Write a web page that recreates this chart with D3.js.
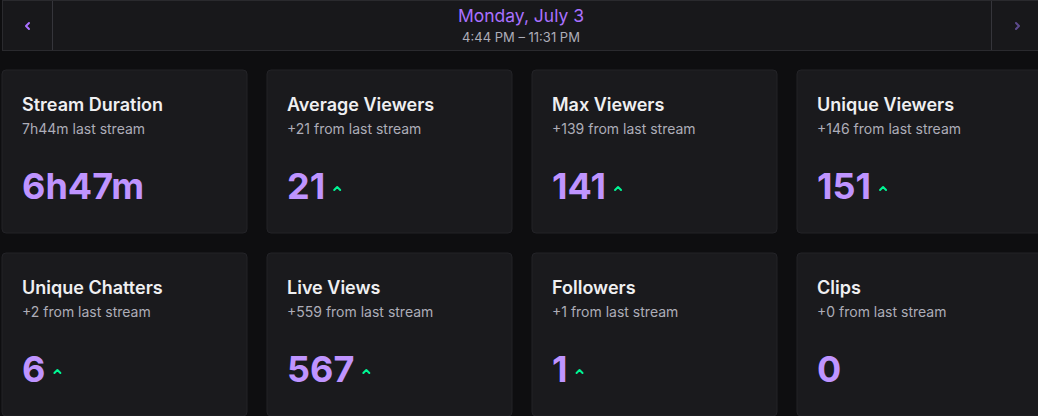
<!DOCTYPE html>
<html><head><meta charset="utf-8">
<script src="https://cdn.jsdelivr.net/npm/d3@7"></script>
<style>
html,body{margin:0;padding:0;background:#0e0e10;overflow:hidden;}
svg{display:block;font-family:Inter,"Noto Sans",sans-serif;}
</style></head>
<body>
<svg id="chart" width="1038" height="416"></svg>
<script>
const headerDate = "Monday, July 3";
const headerTime = "4:44 PM \u2013 11:31 PM";
const titles = ["Stream Duration","Average Viewers","Max Viewers","Unique Viewers","Unique Chatters","Live Views","Followers","Clips"];
const subtitles = ["7h44m last stream","+21 from last stream","+139 from last stream","+146 from last stream","+2 from last stream","+559 from last stream","+1 from last stream","+0 from last stream"];
const values = ["6h47m","21","141","151","6","567","1","0"];
const trendUp = [false,true,true,true,true,true,true,false];

const W = 1038, H = 416;
const svg = d3.select("#chart");

// header
const hdr = svg.append("g");
hdr.append("rect").attr("x",2.5).attr("y",0.5).attr("width",W).attr("height",50)
  .attr("fill","#18181b").attr("stroke","#2a2a2e");
hdr.append("line").attr("x1",52.5).attr("x2",52.5).attr("y1",1).attr("y2",50).attr("stroke","#35353b");
hdr.append("line").attr("x1",991.5).attr("x2",991.5).attr("y1",1).attr("y2",50).attr("stroke","#35353b");
hdr.append("path").attr("d","M29,23 L26,26 L29,29").attr("fill","none").attr("stroke","#a970ff").attr("stroke-width",2).attr("stroke-linecap","round").attr("stroke-linejoin","round");
hdr.append("path").attr("d","M1016,23 L1019,26 L1016,29").attr("fill","none").attr("stroke","#5c4a8c").attr("stroke-width",2).attr("stroke-linecap","round").attr("stroke-linejoin","round");
hdr.append("text").attr("x",521).attr("y",22).attr("text-anchor","middle")
  .attr("font-size",17.5).attr("fill","#a970ff").text(headerDate);
hdr.append("text").attr("x",521).attr("y",42).attr("text-anchor","middle")
  .attr("font-size",13).attr("fill","#adadb8").text(headerTime);

// card grid
const cols = d3.scaleBand().domain(d3.range(4)).range([2, 2 + 4*265 - 20]).paddingInner(20/265).paddingOuter(0);
const rows = d3.scaleBand().domain(d3.range(2)).range([70, 70 + 2*183 - 20]).paddingInner(20/183).paddingOuter(0);

const cards = svg.selectAll("g.card").data(titles.map((t,i)=>({t,s:subtitles[i],v:values[i],up:trendUp[i],i})))
  .join("g").attr("class","card")
  .attr("transform",d=>`translate(${cols(d.i%4)},${rows(Math.floor(d.i/4))})`);

cards.append("rect").attr("width",cols.bandwidth()).attr("height",rows.bandwidth()).attr("rx",4)
  .attr("fill","#1a1a1d").attr("stroke","#232327");
cards.append("text").attr("x",20).attr("y",41).attr("font-size",18).attr("font-weight",600)
  .attr("fill","#efeff1").text(d=>d.t);
cards.append("text").attr("x",20).attr("y",64).attr("font-size",14)
  .attr("fill","#adadb8").text(d=>d.s);
const vals = cards.append("text").attr("x",20).attr("y",129).attr("font-size",36).attr("font-weight",700)
  .attr("fill","#bf94ff").text(d=>d.v);
vals.each(function(d){
  if(!d.up) return;
  const w = this.getComputedTextLength();
  d3.select(this.parentNode).append("path")
    .attr("d",`M${20+w+9},${120} L${20+w+12},${117} L${20+w+15},${120}`)
    .attr("fill","none").attr("stroke","#00f593").attr("stroke-width",2)
    .attr("stroke-linecap","round").attr("stroke-linejoin","round");
});
</script>
</body></html>
